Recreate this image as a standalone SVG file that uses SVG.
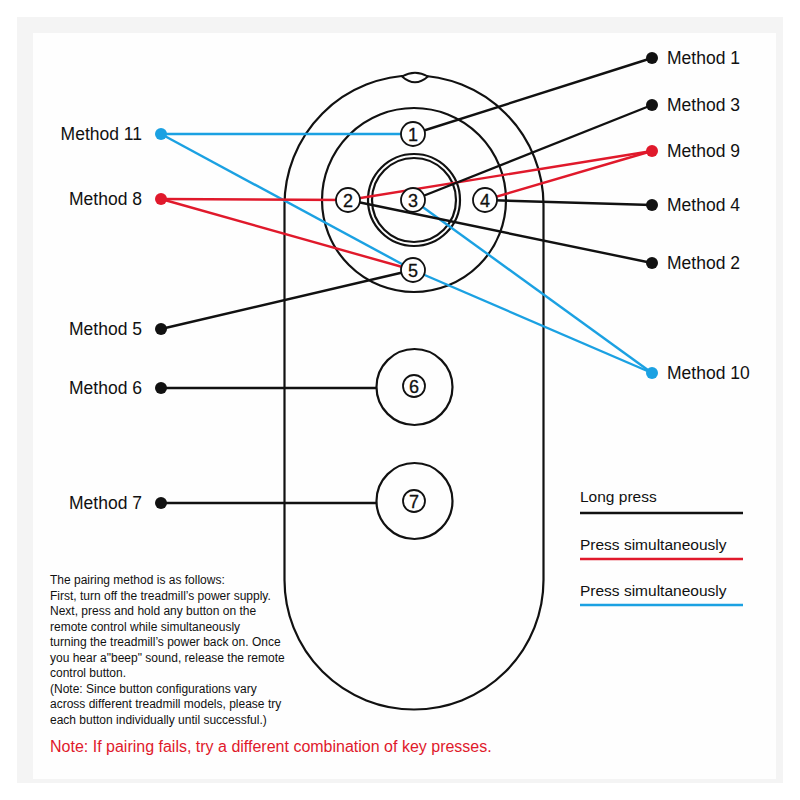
<svg xmlns="http://www.w3.org/2000/svg" width="800" height="800" viewBox="0 0 800 800">
<style>
.t{font-family:"Liberation Sans",Arial,sans-serif;fill:#111}
.lbl{font-size:17.5px}
.num{font-family:"Liberation Sans",Arial,sans-serif;font-size:18px;fill:#111;text-anchor:middle;stroke:#111;stroke-width:0.3}
.body{fill:none;stroke:#111;stroke-width:2.2}
.k{stroke:#111;stroke-width:2.4;fill:none}
.r{stroke:#e0192b;stroke-width:2.4;fill:none}
.b{stroke:#1ba1e2;stroke-width:2.4;fill:none}
.bc{fill:#fff;stroke:#111;stroke-width:1.8}
.small{font-size:12px}
</style>
<rect x="0" y="0" width="800" height="800" fill="#fff"/>
<rect x="17" y="17" width="766" height="766" fill="#f4f4f4"/>
<rect x="33" y="33" width="743" height="746" fill="#fefefe"/>

<g id="remote">
<path class="body" d="M284.5 205 A129.5 129.5 0 0 1 543.5 205 L543.5 580 A129.5 129.5 0 0 1 284.5 580 Z"/>
<path d="M402 76.5 Q415 69 428 76.5 Q415 88 402 76.5 Z" fill="#fff" stroke="#111" stroke-width="1.8"/>
<circle class="body" cx="414" cy="200" r="92"/>
<circle class="body" cx="414" cy="200" r="46"/>
<circle class="body" cx="414" cy="200" r="42"/>
</g>

<g id="connectors">
<line class="b" x1="161" y1="134" x2="413" y2="134"/>
<line class="b" x1="161" y1="134" x2="413" y2="270"/>
<line class="b" x1="413" y1="270" x2="652" y2="373"/>
<line class="b" x1="413" y1="200" x2="652" y2="373"/>
<line class="r" x1="161" y1="199" x2="348" y2="200"/>
<line class="r" x1="161" y1="199" x2="413" y2="270"/>
<line class="r" x1="348" y1="200" x2="652" y2="151"/>
<line class="r" x1="485" y1="200" x2="652" y2="151"/>
<line class="k" x1="413" y1="134" x2="652" y2="58"/>
<line class="k" x1="413" y1="200" x2="652" y2="105"/>
<line class="k" x1="485" y1="200" x2="652" y2="205"/>
<line class="k" x1="348" y1="200" x2="652" y2="263"/>
<line class="k" x1="161" y1="329" x2="413" y2="270"/>
<line class="k" x1="161" y1="388" x2="376" y2="388"/>
<line class="k" x1="161" y1="503" x2="376" y2="503"/>
</g>

<g id="btn1"><circle class="bc" cx="413" cy="134" r="12"/><text class="num" x="413" y="140.5">1</text></g>
<g id="btn2"><circle class="bc" cx="348" cy="200" r="12"/><text class="num" x="348" y="206.5">2</text></g>
<g id="btn3"><circle class="bc" cx="413" cy="200" r="12"/><text class="num" x="413" y="206.5">3</text></g>
<g id="btn4"><circle class="bc" cx="485" cy="200" r="12"/><text class="num" x="485" y="206.5">4</text></g>
<g id="btn5"><circle class="bc" cx="413" cy="270" r="12"/><text class="num" x="413" y="276.5">5</text></g>
<g id="btn6"><circle class="body" cx="414.5" cy="387" r="38" fill="#fff"/><circle class="bc" cx="414" cy="386" r="11"/><text class="num" x="414" y="392.5">6</text></g>
<g id="btn7"><circle class="body" cx="414.5" cy="501" r="38" fill="#fff"/><circle class="bc" cx="414" cy="501" r="11"/><text class="num" x="414" y="507.5">7</text></g>

<g id="m11"><circle cx="161" cy="134" r="6" fill="#1ba1e2"/><text class="t lbl" x="142" y="140" text-anchor="end">Method 11</text></g>
<g id="m8"><circle cx="161" cy="199" r="6" fill="#e0192b"/><text class="t lbl" x="142" y="205" text-anchor="end">Method 8</text></g>
<g id="m5"><circle cx="161" cy="329" r="6" fill="#111"/><text class="t lbl" x="142" y="335" text-anchor="end">Method 5</text></g>
<g id="m6"><circle cx="161" cy="388" r="6" fill="#111"/><text class="t lbl" x="142" y="394" text-anchor="end">Method 6</text></g>
<g id="m7"><circle cx="161" cy="503" r="6" fill="#111"/><text class="t lbl" x="142" y="509" text-anchor="end">Method 7</text></g>
<g id="m1"><circle cx="652" cy="58" r="6" fill="#111"/><text class="t lbl" x="667" y="64">Method 1</text></g>
<g id="m3"><circle cx="652" cy="105" r="6" fill="#111"/><text class="t lbl" x="667" y="111">Method 3</text></g>
<g id="m9"><circle cx="652" cy="151" r="6" fill="#e0192b"/><text class="t lbl" x="667" y="157">Method 9</text></g>
<g id="m4"><circle cx="652" cy="205" r="6" fill="#111"/><text class="t lbl" x="667" y="211">Method 4</text></g>
<g id="m2"><circle cx="652" cy="263" r="6" fill="#111"/><text class="t lbl" x="667" y="269">Method 2</text></g>
<g id="m10"><circle cx="652" cy="373" r="6" fill="#1ba1e2"/><text class="t lbl" x="667" y="379">Method 10</text></g>

<g id="legend">
<text class="t" x="580" y="502" font-size="15.5">Long press</text>
<line x1="580" y1="513" x2="743" y2="513" stroke="#111" stroke-width="2.6"/>
<text class="t" x="580" y="550" font-size="15.5">Press simultaneously</text>
<line x1="580" y1="559" x2="743" y2="559" stroke="#e0192b" stroke-width="2.6"/>
<text class="t" x="580" y="596" font-size="15.5">Press simultaneously</text>
<line x1="580" y1="605" x2="743" y2="605" stroke="#1ba1e2" stroke-width="2.6"/>
</g>

<g id="instructions" class="t small">
<text x="50" y="584">The pairing method is as follows:</text>
<text x="50" y="599.5">First, turn off the treadmill’s power supply.</text>
<text x="50" y="615">Next, press and hold any button on the</text>
<text x="50" y="630.5">remote control while simultaneously</text>
<text x="50" y="646">turning the treadmill’s power back on. Once</text>
<text x="50" y="661.5">you hear a"beep" sound, release the remote</text>
<text x="50" y="677">control button.</text>
<text x="50" y="692.5">(Note: Since button configurations vary</text>
<text x="50" y="708">across different treadmill models, please try</text>
<text x="50" y="723.5">each button individually until successful.)</text>
</g>
<text x="50" y="752" font-family="Liberation Sans, Arial, sans-serif" font-size="16" fill="#e0192b">Note: If pairing fails, try a different combination of key presses.</text>
</svg>
